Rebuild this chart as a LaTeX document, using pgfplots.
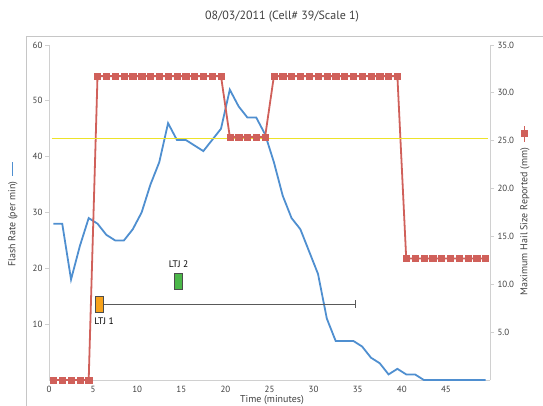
\documentclass[border=0pt]{standalone}
\usepackage{pgfplots}
\pgfplotsset{compat=1.18}
\usepackage{fontspec}
\setmainfont{PT Sans}
\definecolor{flash}{HTML}{4F8FD0}
\definecolor{hail}{HTML}{D0605A}
\definecolor{ylw}{HTML}{EDE32A}
\definecolor{axgray}{HTML}{D0D0D0}
\definecolor{ltjo}{HTML}{F7A21B}
\definecolor{ltjg}{HTML}{4BB749}
\definecolor{txt}{HTML}{404040}
\pgfplotsset{base/.style={scale only axis, width=441bp, height=335bp,
  at={(49bp,26bp)}, anchor=south west, xmin=0, xmax=50,
  axis line style={axgray, line width=1bp}, tick style={axgray, line width=0.8bp},
  tick align=outside, major tick length=4bp,
  tick label style={font=\fontsize{9}{10}\selectfont, text=txt},
  /pgf/number format/assume math mode=true, clip=false}}
\begin{document}
\begin{tikzpicture}
\path[use as bounding box] (0,0) rectangle (543bp,406bp);
\draw[gray!45, line width=0.6bp] (26bp,-5bp) -- (26bp,370bp) -- (560bp,370bp);
\node[text=txt] at (282bp,389bp) {\fontsize{12}{14}\selectfont 08/03/2011 (Cell\# 39/Scale 1)};
\begin{axis}[base, axis x line*=bottom, axis y line*=left,
  ymin=0, ymax=60, ytick={10,20,...,60}, xtick={0,5,...,45},
  x tick style={draw=none}, xticklabel style={yshift=1bp},
  yticklabel style={xshift=1bp}]
\addplot[flash, line width=1.8bp, no marks] coordinates {
(0.5,28)(1.5,28)(2.5,18)(3.5,24)(4.5,29)(5.5,28)(6.5,26)(7.5,25)(8.5,25)(9.5,27)
(10.5,30)(11.5,35)(12.5,39)(13.5,46)(14.5,43)(15.5,43)(16.5,42)(17.5,41)(18.5,43)(19.5,45)
(20.5,52)(21.5,49)(22.5,47)(23.5,47)(24.5,44)(25.5,39)(26.5,33)(27.5,29)(28.5,27)(29.5,23)
(30.5,19)(31.5,11)(32.5,7)(33.5,7)(34.5,7)(35.5,6)(36.5,4)(37.5,3)(38.5,1)(39.5,2)
(40.5,1)(41.5,1)(42.5,0)(43.5,0)(44.5,0)(45.5,0)(46.5,0)(47.5,0)(48.5,0)(49.5,0)};
\node[text=black, font=\fontsize{9.5}{10}\selectfont] at (axis cs:6.25,10.6) {LTJ 1};
\node[text=black, font=\fontsize{9.5}{10}\selectfont] at (axis cs:14.7,20.8) {LTJ 2};
\end{axis}
\begin{axis}[base, axis x line=none, axis y line*=right,
  ymin=0, ymax=35, ytick={5,10,...,35},
  yticklabel style={/pgf/number format/.cd, fixed, fixed zerofill, precision=1}]
\addplot[hail, line width=1.8bp, mark=square*, mark size=3.1bp,
  mark options={line width=0.4bp}] coordinates {
(0.5,0)(1.5,0)(2.5,0)(3.5,0)(4.5,0)
(5.5,31.75)(6.5,31.75)(7.5,31.75)(8.5,31.75)(9.5,31.75)(10.5,31.75)(11.5,31.75)(12.5,31.75)
(13.5,31.75)(14.5,31.75)(15.5,31.75)(16.5,31.75)(17.5,31.75)(18.5,31.75)(19.5,31.75)
(20.5,25.4)(21.5,25.4)(22.5,25.4)(23.5,25.4)(24.5,25.4)
(25.5,31.75)(26.5,31.75)(27.5,31.75)(28.5,31.75)(29.5,31.75)(30.5,31.75)(31.5,31.75)(32.5,31.75)
(33.5,31.75)(34.5,31.75)(35.5,31.75)(36.5,31.75)(37.5,31.75)(38.5,31.75)(39.5,31.75)
(40.5,12.7)(41.5,12.7)(42.5,12.7)(43.5,12.7)(44.5,12.7)(45.5,12.7)(46.5,12.7)(47.5,12.7)(48.5,12.7)(49.5,12.7)};
\addplot[ylw, line width=1.4bp, no marks] coordinates {(0.3,25.25)(49.8,25.25)};
\addplot[draw=none, mark=none, black!65, line width=0.8bp,
  error bars/.cd, x dir=plus, x explicit, error bar style={black!65, line width=0.8bp},
  error mark options={black!65, mark size=4bp, rotate=90}]
  coordinates {(5.7,7.94) +- (29,0)};
\addplot[only marks, mark=square*, mark size=8bp,
  mark options={xscale=0.5, fill=ltjo, draw=black!70, line width=0.5bp}] coordinates {(5.7,7.94)};
\addplot[only marks, mark=square*, mark size=8bp,
  mark options={xscale=0.5, fill=ltjg, draw=black!70, line width=0.5bp}] coordinates {(14.6,10.34)};
\end{axis}
\node[rotate=90, text=txt, font=\fontsize{10}{12}\selectfont] at (13bp,192bp)
  {Flash Rate (per min)\hspace{5bp}\tikz[baseline=-3bp]\draw[flash, line width=1.5bp] (0,0)--(14bp,0);};
\node[rotate=90, text=txt, font=\fontsize{10}{12}\selectfont] at (525bp,196bp)
  {Maximum Hail Size Reported (mm)\hspace{5bp}\tikz[baseline=-3bp]{\draw[hail, line width=1.5bp] (0,0)--(16bp,0); \fill[hail] (4.5bp,-3.5bp) rectangle (11.5bp,3.5bp);}};
\node[text=txt, font=\fontsize{10}{12}\selectfont] at (272bp,6bp) {Time (minutes)};
\end{tikzpicture}
\end{document}
